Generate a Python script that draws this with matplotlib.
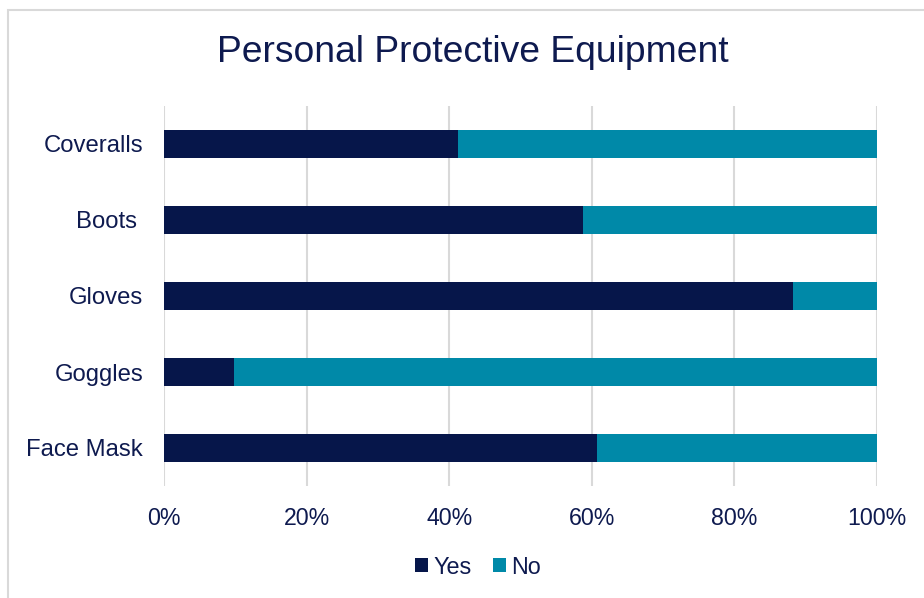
import matplotlib.pyplot as plt
from matplotlib.patches import Rectangle

plt.rcParams['font.family'] = ['Liberation Sans', 'DejaVu Sans']

categories = ["Coveralls", "Boots ", "Gloves", "Goggles", "Face Mask"]
yes_pct = [41.2, 58.8, 88.2, 9.8, 60.7]
no_pct = [100 - v for v in yes_pct]
x_ticks = [0, 20, 40, 60, 80, 100]

navy = "#06164A"
teal = "#0089A8"
text_col = "#0E1A4F"
grid_col = "#D9D9D9"

fig = plt.figure(figsize=(9.24, 5.98), dpi=100)
fig.patches.append(Rectangle((8 / 924, -0.1), 1.2, 1 - 10 / 598 + 0.1,
                             transform=fig.transFigure, fill=False,
                             edgecolor=grid_col, linewidth=1.5))
ax = fig.add_axes([164 / 924, 1 - 486 / 598, (877 - 164) / 924, 380 / 598])

pos = list(range(len(categories)))
ax.barh(pos, yes_pct, height=0.38, color=navy, label="Yes", zorder=3)
ax.barh(pos, no_pct, left=yes_pct, height=0.38, color=teal, label="No", zorder=3)

ax.set_xlim(0, 100)
ax.set_ylim(len(categories) - 0.5, -0.5)
ax.set_yticks(pos)
ax.set_yticklabels(categories, fontsize=17.2, color=text_col)
ax.set_xticks(x_ticks)
ax.set_xticklabels([f"{t}%" for t in x_ticks], fontsize=16.7, color=text_col)
ax.tick_params(length=0)
ax.tick_params(axis='x', pad=15)
ax.tick_params(axis='y', pad=15)
ax.xaxis.grid(True, color=grid_col, linewidth=1.5, zorder=0)
for s in ax.spines.values():
    s.set_visible(False)

fig.text(0.512, 1 - 52 / 598, "Personal Protective Equipment", ha="center",
         va="center", fontsize=26.8, color=text_col)

fig.legend(loc="center", bbox_to_anchor=(478 / 924, 1 - 567 / 598), ncol=2,
           frameon=False, fontsize=16.8, handlelength=0.55, handleheight=0.55,
           handletextpad=0.25, columnspacing=0.9, labelcolor=text_col)

fig.savefig("out.png", dpi=100)
